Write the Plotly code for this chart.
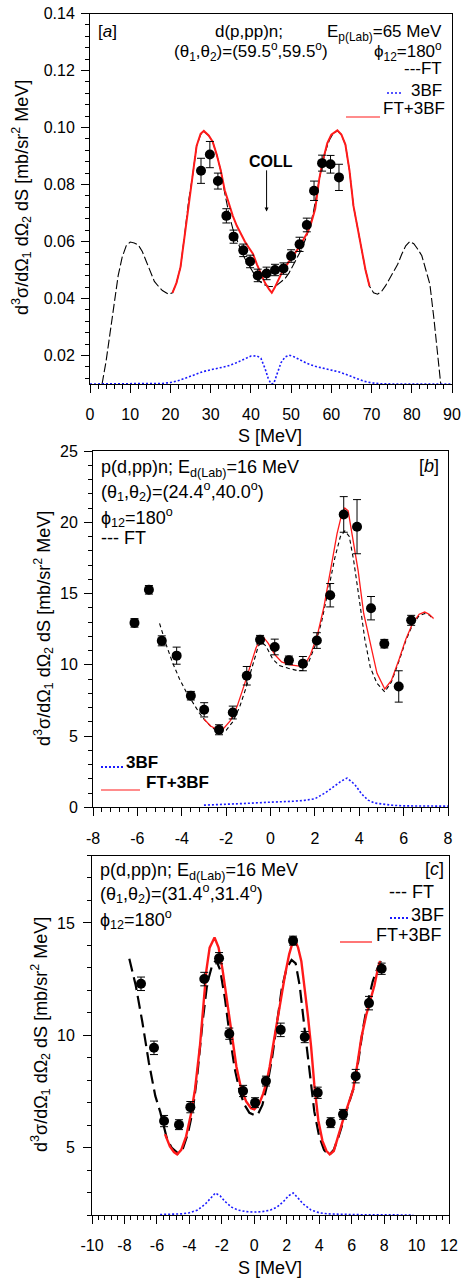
import plotly.graph_objects as go

W, H = 462, 1279
FONT = "Liberation Sans, Arial, Helvetica, sans-serif"

# ---------------- Panel a data ----------------
a_exp_S = [27.6, 29.8, 31.8, 33.9, 35.7, 38.1, 39.8, 41.7, 43.9, 46.0, 48.1, 50.0, 52.1, 53.9, 55.7, 57.7, 59.8, 61.9]
a_exp_V = [0.0848, 0.0905, 0.0812, 0.0690, 0.0617, 0.0569, 0.0530, 0.0481, 0.0488, 0.0500, 0.0505, 0.0549,
           0.0590, 0.0658, 0.0778, 0.0875, 0.0871, 0.0825]
a_exp_E = [0.0044, 0.0046, 0.0028, 0.0025, 0.0023, 0.0022, 0.0022, 0.0022, 0.0022, 0.0020, 0.0020, 0.0022,
           0.0025, 0.0024, 0.0034, 0.0028, 0.0031, 0.0046]

a_ft_S = [3, 4, 5, 6, 7, 8, 9, 10, 11, 12, 13, 14, 15, 16, 17, 18, 19.5, 20.5, 21.5, 22.5, 23.5, 24.5, 25.5,
          26.5, 27.5, 28.3, 29.5, 30.5, 31.5, 32.5, 33.5, 34.5, 35.5, 36.5, 37.5, 38.5, 39.5, 40.5, 41.5, 42.5,
          43.5, 44.5, 45.5, 46.5, 47.5, 48.5, 49.5, 50.5, 51.5, 52.5, 53.5, 54.5, 55.5, 56.5, 57.5, 58.5, 59.5,
          60.5, 61.5, 62.5, 63.5, 64.5, 65.5, 66.5, 67.5, 68.5, 69.5, 70.5, 71.5, 72.5, 73.5, 74.5, 75.5, 76.5,
          77.5, 78.5, 79.5, 80.5, 81.5, 82.5, 83.5, 84.5, 85.5, 86.5, 87.2]
a_ft_V = [0.010, 0.018, 0.028, 0.038, 0.048, 0.0545, 0.0585, 0.0598, 0.0595, 0.0588, 0.0565, 0.053, 0.0495,
          0.046, 0.0443, 0.0428, 0.0415, 0.042, 0.0455, 0.051, 0.062, 0.074, 0.083, 0.0935, 0.0975, 0.0986,
          0.0972, 0.095, 0.0905, 0.085, 0.077, 0.070, 0.0645, 0.0605, 0.057, 0.054, 0.0515, 0.049, 0.047,
          0.0457, 0.0447, 0.0442, 0.0442, 0.0447, 0.0457, 0.047, 0.049, 0.0515, 0.054, 0.057, 0.0605, 0.0645,
          0.070, 0.078, 0.0855, 0.0915, 0.0955, 0.098, 0.0988, 0.0975, 0.094, 0.085, 0.0725, 0.065, 0.0575,
          0.050, 0.0443, 0.042, 0.0415, 0.0425, 0.0445, 0.047, 0.0495, 0.052, 0.0555, 0.0585, 0.0600, 0.0592,
          0.0573, 0.055, 0.050, 0.045, 0.033, 0.019, 0.010]

a_tot_S = [20.5, 21.5, 22.5, 23.5, 24.5, 25.5, 26.5, 27.5, 28.3, 29.5, 30.5, 31.5, 32.5, 33.5, 34.5, 35.5,
           36.5, 37.5, 38.5, 39.5, 40.5, 41.5, 42.5, 43.5, 44.5, 45.2, 46.0, 47.0, 48.0, 49.0, 50.0, 51.0,
           52.0, 53.0, 54.0, 55.0, 56.0, 57.0, 58.0, 59.0, 60.0, 61.5, 62.5, 63.5, 64.5, 65.5, 66.5, 67.5,
           68.5, 69.5]
a_tot_V = [0.042, 0.0455, 0.051, 0.062, 0.074, 0.083, 0.0935, 0.0978, 0.0988, 0.0972, 0.095, 0.0905, 0.085,
           0.078, 0.0735, 0.069, 0.0655, 0.0625, 0.060, 0.0578, 0.0557, 0.052, 0.0485, 0.0455, 0.0433, 0.042,
           0.044, 0.047, 0.050, 0.052, 0.054, 0.056, 0.058, 0.0605, 0.063, 0.0665, 0.0715, 0.082, 0.089,
           0.0945, 0.0975, 0.099, 0.0975, 0.094, 0.085, 0.0725, 0.065, 0.0575, 0.050, 0.0443]

a_3bf_S = [0, 10, 15, 18, 20, 22, 24, 26, 28, 30, 32, 34, 36, 38, 40, 41.5, 42.5, 43.5, 44.3, 45, 45.7, 46.5,
           47.5, 48.5, 49.5, 50.5, 52, 54, 56, 58, 60, 62, 64, 66, 68, 70, 72, 75, 90]
a_3bf_V = [0.010, 0.010, 0.0101, 0.0102, 0.0105, 0.0112, 0.0122, 0.0133, 0.0143, 0.0150, 0.0155, 0.0162,
           0.0172, 0.0185, 0.0198, 0.0199, 0.0190, 0.0155, 0.0120, 0.0101, 0.0102, 0.0135, 0.0175, 0.0195,
           0.0201, 0.0197, 0.0185, 0.0172, 0.0162, 0.0155, 0.0150, 0.0142, 0.0132, 0.0120, 0.0110, 0.0104,
           0.0101, 0.010, 0.010]

a_xticks = [0, 10, 20, 30, 40, 50, 60, 70, 80, 90]
a_yticks = [0.02, 0.04, 0.06, 0.08, 0.10, 0.12, 0.14]
a_ylabels = ["0.02", "0.04", "0.06", "0.08", "0.10", "0.12", "0.14"]

# ---------------- Panel b data ----------------
b_exp_S = [-6.13, -5.48, -4.90, -4.23, -3.59, -2.99, -2.32, -1.70, -1.07, -0.47, 0.19, 0.83, 1.46, 2.09,
           2.69, 3.30, 3.90, 4.53, 5.13, 5.78, 6.34]
b_exp_V = [12.94, 15.26, 11.68, 10.64, 7.83, 6.84, 5.44, 6.65, 9.23, 11.76, 11.25, 10.31, 10.08, 11.70,
           14.88, 20.55, 19.69, 13.97, 11.48, 8.48, 13.12]
b_exp_E = [0.3, 0.3, 0.35, 0.6, 0.3, 0.5, 0.35, 0.45, 0.65, 0.3, 0.55, 0.3, 0.5, 0.55, 0.82, 1.25, 1.9,
           0.82, 0.3, 1.1, 0.35]

b_ft_S = [-5.0, -4.7, -4.4, -4.1, -3.8, -3.5, -3.2, -2.9, -2.6, -2.3, -2.0, -1.7, -1.4, -1.1, -0.8, -0.55,
          -0.4, -0.2, 0.1, 0.4, 0.8, 1.2, 1.45, 1.7, 2.0, 2.3, 2.6, 2.9, 3.15, 3.35, 3.55, 3.75, 4.0, 4.25,
          4.5, 4.8, 5.15, 5.45, 5.8, 6.1, 6.4, 6.7, 6.95, 7.15, 7.35]
b_ft_V = [12.9, 11.4, 10.1, 9.0, 8.1, 7.3, 6.6, 6.0, 5.55, 5.3, 5.4, 6.0, 7.0, 8.4, 10.0, 11.3, 11.6, 11.3,
          10.4, 9.95, 9.75, 9.6, 9.6, 10.1, 11.3, 13.0, 15.2, 17.5, 19.0, 19.4, 19.0, 17.3, 14.6, 11.8, 9.8,
          8.7, 8.1, 8.8, 10.3, 11.7, 12.8, 13.45, 13.6, 13.5, 13.2]

b_tot_S = [-3.0, -2.7, -2.4, -2.1, -1.8, -1.5, -1.2, -0.9, -0.65, -0.45, -0.3, -0.1, 0.2, 0.5, 0.9, 1.3,
           1.55, 1.8, 2.1, 2.4, 2.7, 3.0, 3.2, 3.35, 3.5, 3.7, 3.95, 4.2, 4.5, 4.8, 5.15, 5.45, 5.8, 6.1, 6.4,
           6.7, 6.95, 7.15, 7.35]
b_tot_V = [6.2, 5.7, 5.45, 5.55, 6.1, 7.1, 8.5, 10.0, 11.2, 11.8, 11.9, 11.5, 10.7, 10.2, 10.0, 9.9, 10.0,
           10.7, 12.0, 14.0, 16.7, 19.2, 20.5, 21.0, 20.8, 19.0, 16.6, 13.6, 11.4, 9.4, 8.3, 8.9, 10.4, 11.8,
           12.9, 13.55, 13.7, 13.55, 13.25]

b_3bf_S = [-3.0, -2.0, -1.0, 0.0, 0.5, 1.0, 1.5, 2.0, 2.5, 3.0, 3.2, 3.45, 3.8, 4.1, 4.4, 4.7, 5.0, 5.5,
           6.0, 7.0, 8.0]
b_3bf_V = [0.15, 0.2, 0.28, 0.36, 0.38, 0.42, 0.48, 0.6, 1.05, 1.6, 1.85, 2.05, 1.6, 0.95, 0.5, 0.3, 0.22,
           0.14, 0.1, 0.08, 0.08]

b_xticks = [-8, -6, -4, -2, 0, 2, 4, 6, 8]
b_yticks = [0, 5, 10, 15, 20, 25]

# ---------------- Panel c data ----------------
c_exp_S = [-6.98, -6.18, -5.56, -4.64, -3.94, -3.08, -2.17, -1.54, -0.69, 0.05, 0.72, 1.63, 2.39, 3.11,
           3.91, 4.71, 5.47, 6.25, 7.07, 7.85]
c_exp_V = [12.29, 9.44, 6.18, 6.02, 6.80, 12.50, 13.43, 10.07, 7.52, 7.00, 7.96, 10.24, 14.21, 9.92, 7.44,
           6.11, 6.48, 8.18, 11.43, 12.96]
c_exp_E = [0.3, 0.3, 0.25, 0.22, 0.25, 0.3, 0.25, 0.25, 0.25, 0.22, 0.22, 0.3, 0.2, 0.25, 0.25, 0.22, 0.22,
           0.3, 0.3, 0.25]

c_ft_S = [-7.7, -7.3, -6.9, -6.5, -6.1, -5.8, -5.4, -5.1, -4.7, -4.4, -4.1, -3.8, -3.5, -3.2, -2.9, -2.6,
          -2.35, -2.1, -1.8, -1.5, -1.2, -0.9, -0.6, -0.3, 0.0, 0.2, 0.5, 0.8, 1.1, 1.4, 1.7, 2.0, 2.3, 2.55,
          2.8, 3.1, 3.4, 3.7, 4.0, 4.3, 4.6, 4.9, 5.2, 5.5, 5.8, 6.1, 6.4, 6.7, 7.0, 7.3, 7.6, 7.8]
c_ft_V = [13.4, 12.2, 10.6, 8.8, 7.3, 6.6, 5.45, 5.0, 4.75, 4.95, 5.6, 6.6, 8.3, 10.5, 12.3, 13.1, 13.35,
          12.9, 11.6, 9.9, 8.5, 7.5, 6.9, 6.55, 6.45, 6.45, 6.9, 7.8, 9.0, 10.6, 12.1, 13.0, 13.35, 13.2,
          12.2, 10.3, 8.3, 6.6, 5.5, 4.9, 4.65, 4.9, 5.5, 6.2, 6.9, 7.6, 8.8, 10.3, 11.5, 12.4, 13.0, 13.3]

c_tot_S = [-5.5, -5.2, -4.95, -4.75, -4.5, -4.2, -3.9, -3.65, -3.35, -3.15, -2.95, -2.75, -2.45, -2.2,
           -1.95, -1.75, -1.5, -1.3, -1.1, -0.8, -0.5, -0.2, 0.0, 0.3, 0.55, 0.75, 0.95, 1.15, 1.4, 1.65, 1.9,
           2.15, 2.35, 2.5, 2.7, 2.9, 3.1, 3.3, 3.5, 3.7, 3.95, 4.2, 4.45, 4.65, 4.9, 5.2, 5.5, 5.8, 6.1,
           6.35, 6.6, 6.9, 7.15, 7.4, 7.6, 7.75]
c_tot_V = [5.6, 5.05, 4.8, 4.7, 4.9, 5.5, 6.5, 7.6, 9.5, 11.2, 12.9, 13.9, 14.35, 13.9, 12.9, 11.9, 10.6,
           9.5, 8.6, 7.6, 7.05, 6.75, 6.7, 6.95, 7.4, 7.9, 8.6, 9.5, 10.6, 11.6, 12.7, 13.6, 14.1, 14.25,
           13.9, 13.3, 12.2, 10.9, 9.5, 7.8, 6.2, 5.3, 4.85, 4.7, 4.85, 5.6, 6.3, 6.95, 7.6, 8.7, 9.9, 10.9,
           11.6, 12.2, 12.9, 13.3]

c_3bf_S = [-5.8, -5.0, -4.5, -4.0, -3.5, -3.0, -2.7, -2.4, -2.1, -1.8, -1.4, -1.0, -0.5, 0.0, 0.5, 1.0,
           1.4, 1.8, 2.1, 2.4, 2.7, 3.0, 3.5, 4.0, 4.5, 5.0, 6.0, 7.0, 8.0, 9.0, 9.8]
c_3bf_V = [2.02, 2.03, 2.05, 2.1, 2.22, 2.5, 2.75, 2.98, 2.85, 2.6, 2.35, 2.22, 2.15, 2.13, 2.15, 2.22, 2.35,
           2.6, 2.85, 2.98, 2.75, 2.5, 2.22, 2.1, 2.05, 2.03, 2.02, 2.01, 2.0, 2.0, 2.0]

c_xticks = [-10, -8, -6, -4, -2, 0, 2, 4, 6, 8, 10, 12]
c_yticks = [5, 10, 15]

YTITLE = "d<sup>3</sup>σ/dΩ<sub>1</sub> dΩ<sub>2</sub> dS [mb/sr<sup>2</sup> MeV]"


def px(p):
    return p / W


def py(p):
    return 1 - p / H


fig = go.Figure()


def add_panel(xa, ya, ft_S, ft_V, ft_dash, ft_w, b_S, b_V, t_S, t_V, t_w, e_S, e_V, e_E):
    fig.add_trace(go.Scatter(x=ft_S, y=ft_V, mode="lines", xaxis=xa, yaxis=ya,
                             line=dict(color="black", width=ft_w, dash=ft_dash)))
    fig.add_trace(go.Scatter(x=b_S, y=b_V, mode="lines", xaxis=xa, yaxis=ya,
                             line=dict(color="#1a1aff", width=1.6, dash="2px,2px")))
    fig.add_trace(go.Scatter(x=t_S, y=t_V, mode="lines", xaxis=xa, yaxis=ya,
                             line=dict(color="#ff1a1a", width=t_w)))
    fig.add_trace(go.Scatter(x=e_S, y=e_V, mode="markers", xaxis=xa, yaxis=ya,
                             marker=dict(color="black", size=10, symbol="circle"),
                             error_y=dict(type="data", array=e_E, visible=True, color="black",
                                          thickness=1, width=4)))


add_panel("x", "y", a_ft_S, a_ft_V, "9px,3px", 1.1, a_3bf_S, a_3bf_V, a_tot_S, a_tot_V, 2.0,
          a_exp_S, a_exp_V, a_exp_E)
add_panel("x2", "y2", b_ft_S, b_ft_V, "4px,3px", 1.1, b_3bf_S, b_3bf_V, b_tot_S, b_tot_V, 1.3,
          b_exp_S, b_exp_V, b_exp_E)
add_panel("x3", "y3", c_ft_S, c_ft_V, "13px,6px", 2.2, c_3bf_S, c_3bf_V, c_tot_S, c_tot_V, 2.4,
          c_exp_S, c_exp_V, c_exp_E)


def axis(domain, rng, tickvals, ticktext, minor_dtick, anchor, standoff):
    return dict(domain=domain, range=rng, anchor=anchor, tickmode="array", tickvals=tickvals,
                ticktext=ticktext, showline=True, linecolor="black", linewidth=1, mirror=True,
                ticks="outside", ticklen=8, tickwidth=1, tickcolor="black", showgrid=False,
                zeroline=False, ticklabelstandoff=standoff,
                tickfont=dict(family=FONT, size=16, color="black"),
                minor=dict(ticks="outside", ticklen=4, tickwidth=1, tickcolor="black",
                           tickmode="linear", tick0=0, dtick=minor_dtick, showgrid=False))


XA = [px(90), px(452)]
XB = [px(93), px(448)]
XC = [px(92), px(449)]
YA = [py(384), py(13.5)]
YB = [py(807.3), py(451)]
YC = [py(1215), py(855.5)]

fig.update_layout(
    width=W, height=H, margin=dict(l=0, r=0, t=0, b=0, autoexpand=False),
    paper_bgcolor="white", plot_bgcolor="white", showlegend=False,
    font=dict(family=FONT, color="black"),
    xaxis=axis(XA, [0, 90], a_xticks, [str(v) for v in a_xticks], 2, "y", 8),
    yaxis=axis(YA, [0.01, 0.14], a_yticks, a_ylabels, 0.004, "x", 3),
    xaxis2=axis(XB, [-8, 8], b_xticks, [str(v) for v in b_xticks], 0.4, "y2", 8),
    yaxis2=axis(YB, [0, 25], b_yticks, [str(v) for v in b_yticks], 1, "x2", 3),
    xaxis3=axis(XC, [-10, 12], c_xticks, [str(v) for v in c_xticks], 0.4, "y3", 8),
    yaxis3=axis(YC, [2, 18], c_yticks, [str(v) for v in c_yticks], 1, "x3", 5),
)

ann = []


def text(t, x, y, anchor="left", size=18, bold=False, angle=0):
    ann.append(dict(text=("<b>%s</b>" % t) if bold else t, x=px(x), y=py(y), xref="paper",
                    yref="paper", xanchor=anchor, yanchor="middle", showarrow=False,
                    textangle=angle, font=dict(family=FONT, size=size, color="black")))


# Panel a texts
text("[<i>a</i>]", 96, 31, size=17)
text("d(p,pp)n;", 213, 31, size=17)
text("E<sub>p(Lab)</sub>=65 MeV", 444, 33, "right", 17)
text("(θ<sub>1</sub>,θ<sub>2</sub>)=(59.5<sup>o</sup>,59.5<sup>o</sup>)", 172, 52, size=17)
text("ϕ<sub>12</sub>=180<sup>o</sup>", 444, 51, "right", 17)
text("---FT", 444, 69, "right", 17)
text("3BF", 444, 91, "right", 17)
text("FT+3BF", 447, 109, "right", 17)
text("COLL", 271, 161, "center", 16, bold=True)
text("S [MeV]", 270, 436, "center", 18)
text(YTITLE, 22, 198, "center", 18, angle=-90)

# Panel b texts
text("p(d,pp)n; E<sub>d(Lab)</sub>=16 MeV", 99, 468)
text("[<i>b</i>]", 441, 466, "right")
text("(θ<sub>1</sub>,θ<sub>2</sub>)=(24.4<sup>o</sup>,40.0<sup>o</sup>)", 99, 491)
text("ϕ<sub>12</sub>=180<sup>o</sup>", 99, 517)
text("--- FT", 99, 538)
text("3BF", 124, 762, "left", 17, bold=True)
text("FT+3BF", 144, 782, "left", 17, bold=True)
text(YTITLE, 43, 629, "center", 18, angle=-90)

# Panel c texts
text("p(d,pp)n; E<sub>d(Lab)</sub>=16 MeV", 98, 871)
text("[<i>c</i>]", 446, 869, "right")
text("(θ<sub>1</sub>,θ<sub>2</sub>)=(31.4<sup>o</sup>,31.4<sup>o</sup>)", 98, 893)
text("ϕ<sub>12</sub>=180<sup>o</sup>", 98, 919)
text("--- FT", 436, 892, "right")
text("3BF", 446, 915, "right")
text("FT+3BF", 444, 935, "right")
text("S [MeV]", 270, 1268, "center", 18)
text(YTITLE, 40, 1035, "center", 18, angle=-90)

# COLL arrow
ann.append(dict(x=43.9, y=0.0705, ax=43.9, ay=0.0855, xref="x", yref="y", axref="x", ayref="y",
                text="", showarrow=True, arrowhead=2, arrowsize=0.8, arrowwidth=1, arrowcolor="black"))

fig.update_layout(annotations=ann)

# Legend keys (paper coordinates)
shapes = []


def key(x0, x1, y, color, dash, width):
    shapes.append(dict(type="line", xref="paper", yref="paper", x0=px(x0), x1=px(x1), y0=py(y), y1=py(y),
                       line=dict(color=color, dash=dash, width=width)))


key(387, 403, 93, "#1a1aff", "2px,2px", 1.6)
key(346, 380, 117, "#ff1a1a", "solid", 1.2)
key(101, 123, 767, "#1a1aff", "2px,2px", 2.2)
key(101, 140, 790, "#ff1a1a", "solid", 1.2)
key(390, 408, 918, "#1a1aff", "2px,2px", 2.2)
key(340, 372, 942, "#ff1a1a", "solid", 1.2)
fig.update_layout(shapes=shapes)

fig.write_html("out.html", config={"displayModeBar": False},
               post_script="document.body.style.margin='0';document.body.style.overflow='hidden';")
